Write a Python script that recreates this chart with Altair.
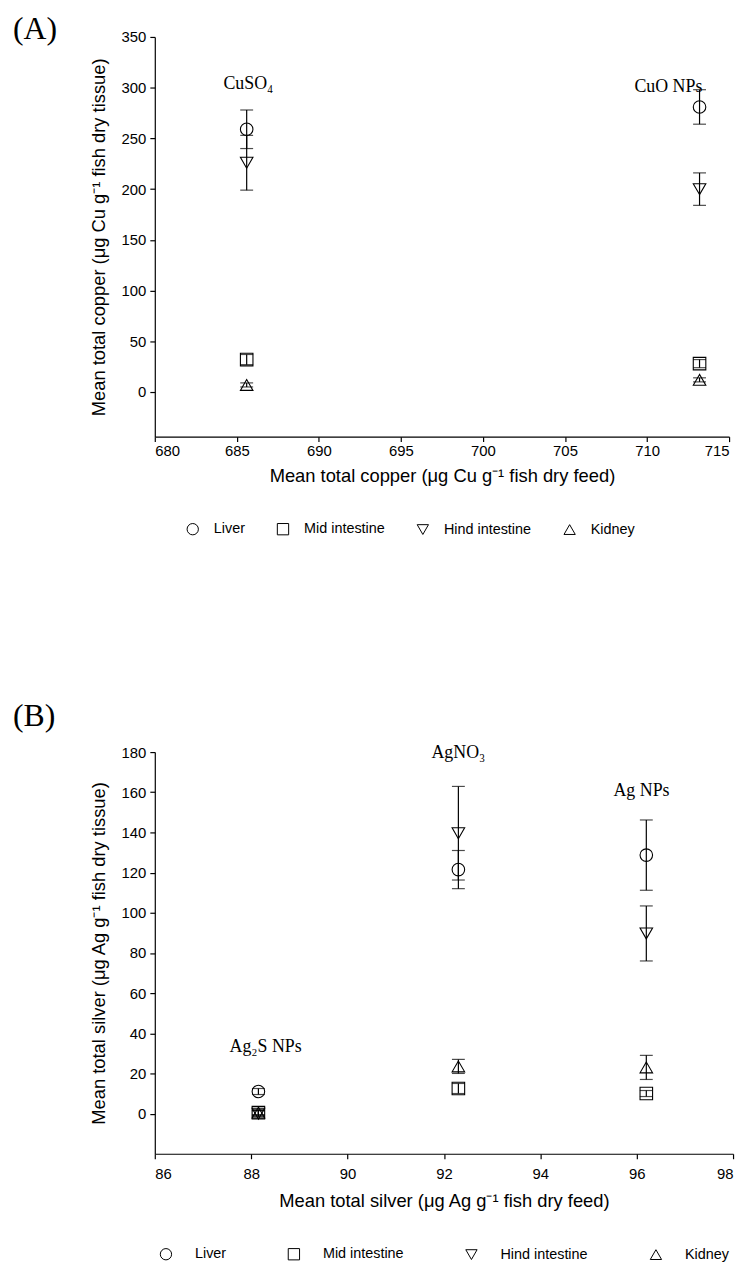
import altair as alt
import pandas as pd

tissues = ["Liver", "Mid intestine", "Hind intestine", "Kidney"]
shape_range = ["circle", "square", "triangle-down", "triangle-up"]

# ---- Panel A: copper ----
cu_treatments = ["CuSO₄", "CuO NPs"]
cu_feed = [685.6, 713.2]
cu_liver = [259, 281]
cu_liver_sd = [19, 17]
cu_mid = [32, 28]
cu_mid_sd = [5, 4]
cu_hind = [226, 200]
cu_hind_sd = [27, 16]
cu_kidney = [7, 12]
cu_kidney_sd = [2, 2]
cu_label_x = [685.7, 711.3]
cu_label_y = [304, 301]
cu_xticks = [680, 685, 690, 695, 700, 705, 710, 715]
cu_yticks = [0, 50, 100, 150, 200, 250, 300, 350]

# ---- Panel B: silver ----
ag_treatments = ["Ag₂S NPs", "AgNO₃", "Ag NPs"]
ag_feed = [88.15, 92.3, 96.2]
ag_liver = [11, 121.5, 128.7]
ag_liver_sd = [1.5, 9.5, 17.5]
ag_mid = [0.5, 12.5, 10]
ag_mid_sd = [1, 2.5, 1.5]
ag_hind = [0, 139.6, 89.7]
ag_hind_sd = [1.5, 23.3, 13.7]
ag_kidney = [0.5, 23.5, 23]
ag_kidney_sd = [1.5, 3.5, 6]
ag_label_x = [88.3, 92.3, 96.1]
ag_label_y = [33, 179.5, 160.5]
ag_xticks = [86, 88, 90, 92, 94, 96, 98]
ag_yticks = [0, 20, 40, 60, 80, 100, 120, 140, 160, 180]


def long_df(feed, means, sds):
    rows = []
    for tissue, m, s in zip(tissues, means, sds):
        for xv, mv, sv in zip(feed, m, s):
            rows.append({"x": xv, "y": mv, "lo": mv - sv, "hi": mv + sv, "tissue": tissue})
    return pd.DataFrame(rows)


cu_df = long_df(cu_feed, [cu_liver, cu_mid, cu_hind, cu_kidney],
                [cu_liver_sd, cu_mid_sd, cu_hind_sd, cu_kidney_sd])
ag_df = long_df(ag_feed, [ag_liver, ag_mid, ag_hind, ag_kidney],
                [ag_liver_sd, ag_mid_sd, ag_hind_sd, ag_kidney_sd])
cu_ann = pd.DataFrame({"x": cu_label_x, "y": cu_label_y, "label": cu_treatments})
ag_ann = pd.DataFrame({"x": ag_label_x, "y": ag_label_y, "label": ag_treatments})

SANS = "Liberation Sans"
SERIF = "Liberation Serif"


def panel(df, ann, letter, xdom, xticks, ydom, yticks, xtitle, ytitle,
          w, h, letter_y, leg_x, leg_y, leg_pad, leg_off, x_lab_pad, x_title_pad):
    xaxis = alt.Axis(values=xticks, title=xtitle, format="d",
                     labelPadding=x_lab_pad, titlePadding=x_title_pad)
    yaxis = alt.Axis(values=yticks, title=ytitle, format="d")
    xs = alt.Scale(domain=xdom, nice=False, zero=False)
    ys = alt.Scale(domain=ydom, nice=False, zero=False)
    base = alt.Chart(df)
    rules = base.mark_rule(color="black", strokeWidth=1.2).encode(
        x=alt.X("x:Q", scale=xs, axis=xaxis),
        y=alt.Y("lo:Q", scale=ys, axis=yaxis),
        y2="hi:Q",
    )
    cap_hi = base.mark_tick(orient="horizontal", size=13, thickness=1.2, color="black").encode(
        x=alt.X("x:Q", scale=xs, axis=xaxis),
        y=alt.Y("hi:Q", scale=ys, axis=yaxis),
    )
    cap_lo = base.mark_tick(orient="horizontal", size=13, thickness=1.2, color="black").encode(
        x=alt.X("x:Q", scale=xs, axis=xaxis),
        y=alt.Y("lo:Q", scale=ys, axis=yaxis),
    )
    pts = base.mark_point(filled=False, color="black", strokeWidth=1.1, size=160, opacity=1).encode(
        x=alt.X("x:Q", scale=xs, axis=xaxis),
        y=alt.Y("y:Q", scale=ys, axis=yaxis),
        shape=alt.Shape(
            "tissue:N",
            scale=alt.Scale(domain=tissues, range=shape_range),
            legend=alt.Legend(
                title=None, orient="none", legendX=leg_x, legendY=leg_y,
                direction="horizontal", columns=4, columnPadding=leg_pad,
                labelOffset=leg_off, labelFont=SANS, labelFontSize=14.5,
                labelColor="black", symbolSize=130, symbolStrokeColor="black",
                symbolStrokeWidth=1, symbolFillColor="transparent",
            ),
        ),
    )
    labels = alt.Chart(ann).mark_text(font=SERIF, fontSize=18, color="black").encode(
        x=alt.X("x:Q", scale=xs, axis=xaxis),
        y=alt.Y("y:Q", scale=ys, axis=yaxis),
        text="label:N",
    )
    lett = alt.Chart(pd.DataFrame({"t": [letter]})).mark_text(
        font=SERIF, fontSize=32, align="left", baseline="middle", color="black"
    ).encode(x=alt.value(-143), y=alt.value(letter_y), text="t:N")
    return alt.layer(rules, cap_hi, cap_lo, pts, labels, lett).properties(width=w, height=h)


chart_a = panel(cu_df, cu_ann, "(A)", [680, 715], cu_xticks, [-44, 350], cu_yticks,
                "Mean total copper (μg Cu g⁻¹ fish dry feed)",
                "Mean total copper (μg Cu g⁻¹ fish dry tissue)",
                579, 403, -8, 31, 489, 30, 14, 2, 8)
chart_b = panel(ag_df, ag_ann, "(B)", [86, 98], ag_xticks, [-20, 180], ag_yticks,
                "Mean total silver (μg Ag g⁻¹ fish dry feed)",
                "Mean total silver (μg Ag g⁻¹ fish dry tissue)",
                583, 405, -36, 4, 499, 60, 22, 8, 10)

chart = (
    alt.vconcat(chart_a, chart_b, spacing=165)
    .resolve_scale(x="independent", y="independent", shape="independent")
    .resolve_legend(shape="independent")
    .configure_view(stroke=None)
    .configure_axis(
        grid=False, domainColor="black", tickColor="black", labelColor="black",
        titleColor="black", labelFont=SANS, titleFont=SANS, labelFontSize=15,
        titleFontSize=18.5, titleFontWeight="normal", tickSize=5,
        domainWidth=1.2, tickWidth=1.2,
    )
    .configure_axisY(titlePadding=13, labelPadding=4)
    .properties(background="white", padding={"left": 5, "top": 0, "right": 5, "bottom": 5})
)

chart.save("out.html", embed_options={"renderer": "svg", "actions": False})
